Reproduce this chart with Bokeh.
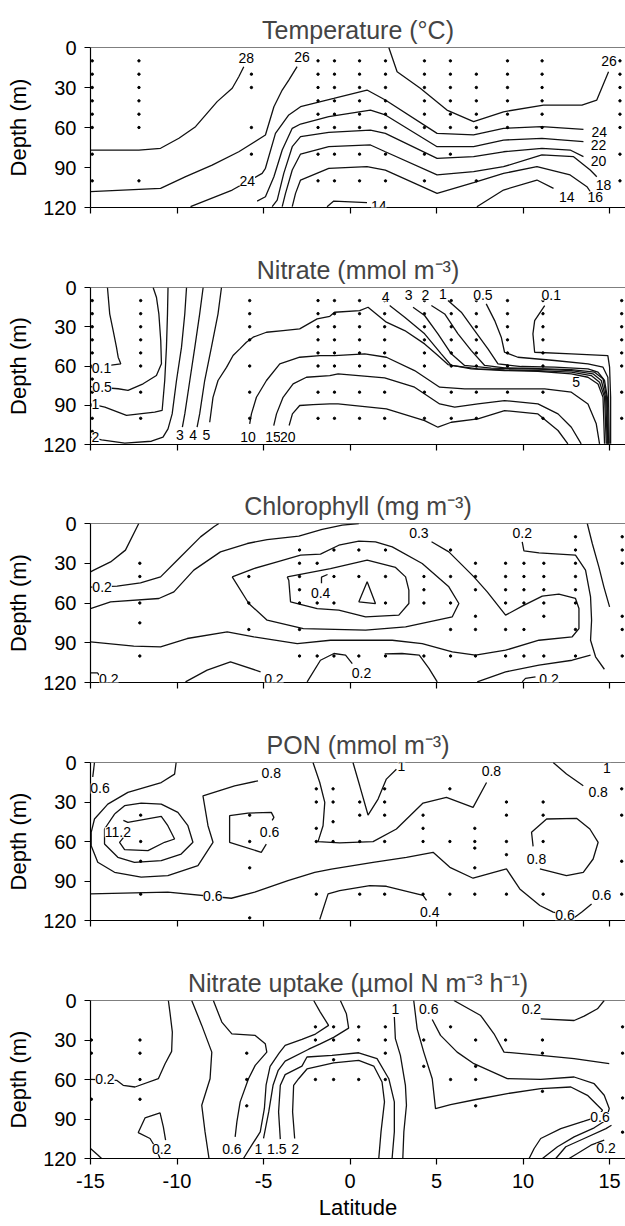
from bokeh.plotting import figure
from bokeh.models import ColumnDataSource, LabelSet, Span, FixedTicker, Range1d
from bokeh.core.properties import value
from bokeh.layouts import column
from bokeh.embed import file_html
from bokeh.resources import INLINE

FONT = "Liberation Sans"
DEPTH_TICKS = [0, 30, 60, 90, 120]
LAT_TICKS = [-15, -10, -5, 0, 5, 10, 15]
LAT_TICK_LABELS = ["-15", "-10", "-5", "0", "5", "10", "15"]

# ---------------- Panel 1: Temperature ----------------
T28 = ([-15, -12.2, -10.95, -9.89, -8.93, -7.68, -6.81, -6.43, -6.14], [76.9, 76.9, 75.6, 68.1, 59.4, 40.6, 30.6, 21.9, 14.4])
T26A = ([-15, -10.95, -9.5, -7.97, -6.43, -4.89, -4.4, -3.92, -3.54, -3.06], [108.1, 105.6, 96.9, 88.2, 78.2, 65.6, 44.4, 31.9, 24.4, 14.4])
T26B = ([2.24, 2.72, 4.06, 5.6, 7.14, 8.87, 11.18, 13.4, 14.26, 14.94], [0, 18.2, 30.6, 46.9, 55.6, 48.2, 43.2, 43.2, 39.4, 18.2])
T24 = ([-9.22, -6.81, -5.08, -4.89, -4.31, -3.54, -2.86, -0.94, 0.98, 2.04, 5.03, 7.14, 8.87, 11.09, 13.49], [119.4, 106.9, 94.4, 90.6, 64.4, 50.6, 44.4, 38.2, 31.9, 39.4, 64.4, 65.6, 60.6, 59.4, 61.4])
T22 = ([-5.37, -4.89, -4.4, -3.92, -3.34, -2.86, -1.23, 1.18, 2.04, 5.03, 7.14, 8.87, 11.09, 13.49], [115.2, 111.9, 96.9, 76.9, 60.6, 57.4, 51.9, 46.9, 50.6, 74.4, 74.4, 69.4, 68.1, 70.6])
T20 = ([-4.5, -4.21, -3.83, -3.34, -2.86, -1.23, 1.18, 2.04, 5.03, 7.14, 8.87, 11.09, 12.72, 13.49], [119.4, 114.4, 94.4, 74.4, 66.9, 63.6, 61.9, 64.4, 83.1, 81.9, 78.2, 75.6, 76.9, 81.9])
T18 = ([-3.92, -3.73, -3.34, -2.86, -1.23, 1.18, 2.04, 5.03, 7.14, 8.87, 11.09, 12.92, 13.88, 14.26], [119.4, 109.4, 91.9, 79.9, 74.4, 73.1, 78.2, 95.6, 93.1, 89.4, 80.6, 81.9, 91.9, 96.9])
T16 = ([-3.34, -3.15, -2.86, -1.23, 0.98, 2.04, 5.03, 7.14, 8.87, 10.8, 12.72, 13.69, 13.88], [119.4, 109.4, 99.4, 90.6, 89.4, 91.9, 109.4, 101.4, 94.4, 89.4, 95.6, 104.4, 108])
T14R = ([7.33, 8.87, 10.8, 11.76], [119.4, 106.9, 99.4, 105.6])
T14L = ([-1.33, -0.94, 0.98], [119.4, 115.2, 116.4])
temp_lines = [T28, T26A, T26B, T24, T22, T20, T18, T16, T14R, T14L]
temp_lab_lat = [-6.0, -2.77, 14.97, -5.94, 14.4, 14.36, 14.36, 14.65, 14.17, 12.53, 1.66]
temp_lab_dep = [8.0, 7.4, 10.0, 100.2, 63.1, 73.1, 84.9, 103.1, 111.9, 112.4, 118.9]
temp_lab_txt = ["28", "26", "26", "24", "24", "22", "20", "18", "16", "14", "14"]
temp_stn_lat = [-14.9, -12.2, -5.7, -1.85, -0.9, 0.55, 2.05, 4.3, 5.8, 7.3, 9.1, 11.1, 15.6]
temp_stn_dep = [[10, 20, 30, 40, 50, 60, 80, 100], [10, 20, 30, 40, 50, 60, 100], [20, 30, 60, 80],
                [10, 20, 30, 40, 50, 60, 80, 100], [10, 20, 30, 40, 50, 60, 80, 100], [10, 20, 30, 40, 50, 60, 80, 100],
                [10, 20, 30, 40, 50, 60, 80, 100], [10, 20, 30, 40, 50, 60, 80, 100], [10, 20, 30, 40, 50, 60, 80],
                [20, 30, 40, 50, 60, 100], [10, 20, 30, 40, 50, 60], [10, 20, 30, 40, 50, 60], [10, 20, 30, 40, 50, 60, 80, 100]]

# ---------------- Panel 2: Nitrate ----------------
N01A = ([-14.02, -13.89, -13.69, -13.5, -13.4, -13.25, -15], [0, 20.1, 32.9, 45.6, 53.3, 58.3, 61.4])
N05A = ([-11.38, -11.19, -11.05, -10.94, -10.9, -11.19, -11.96, -12.83, -13.4, -15], [0, 7.4, 20.1, 40.5, 58.3, 67.3, 73.6, 78.7, 77.4, 75.7])
N1A = ([-10.52, -10.55, -10.61, -10.71, -10.86, -11.29, -12.92, -14.17, -15], [0, 20.1, 45.6, 71.1, 94, 95.3, 97.8, 91.5, 89])
N2A = ([-9.45, -9.55, -9.74, -10.03, -10.28, -10.52, -10.81, -11.48, -13.02, -14.36, -15], [0, 20.1, 45.6, 71.1, 96.6, 108, 114.4, 117.5, 119, 116.4, 114.4])
N3A = ([-8.49, -8.69, -8.97, -9.26, -9.55, -9.69], [0, 20.1, 45.6, 71.1, 96.6, 106.8])
N4A = ([-7.43, -7.63, -8.01, -8.4, -8.69, -8.84], [0, 20.1, 45.6, 71.1, 96.6, 106.8])
N5 = ([-8.11, -7.92, -7.63, -7.14, -6.76, -6.37, -5.99, -5.6, -4.83, -3.87, -2.91, -1.9, -1.17, -0.89, 0.56, 1.04, 2.1, 3.16, 4.31, 5.08, 5.66, 7.01, 8.93, 10.86, 12.79, 13.75, 14.33, 14.62, 14.71],
      [103, 84, 71.1, 61, 52, 46.9, 41.8, 38, 34.2, 32.9, 31.6, 24, 22, 18.9, 17.6, 15.1, 26.5, 32.9, 43.1, 52, 58.9, 62.2, 63.5, 64, 66, 68.6, 73.7, 83.9, 119.5])
N10 = ([-5.8, -5.7, -5.41, -4.83, -4.06, -2.91, -1.75, -0.89, 0.85, 2.1, 3.73, 5.18, 6.62, 8.93, 11.25, 12.79, 13.75, 14.23, 14.42],
       [104.2, 96.6, 83.9, 71.1, 58.4, 53.3, 52, 52, 50.7, 53.3, 63.5, 76.2, 77.5, 77.5, 77.5, 80, 89, 104.2, 119.5])
N15 = ([-4.41, -4.25, -3.87, -3.29, -2.52, -1.17, -0.69, 2.0, 3.73, 5.18, 6.05, 7.39, 8.93, 10.86, 12.02, 12.79, 13.36],
       [105.5, 96.6, 83.9, 73.7, 68.6, 67.3, 66, 69, 76.2, 89, 91.5, 89, 86.4, 89, 96.6, 106.8, 119.5])
N20 = ([-3.52, -3.33, -2.91, -2.14, -1.17, -0.69, 2.1, 4.31, 5.08, 5.85, 7.39, 8.93, 10.86, 12.02, 12.59],
       [105.5, 96.6, 90.2, 89.5, 89, 89, 92.8, 101.7, 106.8, 103, 100.4, 94.1, 96.6, 109.3, 119.5])
N4B = ([2.29, 3.16, 4.31, 5.27, 5.85, 7.39, 8.93, 10.86, 12.79, 13.94, 14.42, 14.71, 14.81], [13.8, 22.7, 35.4, 50.7, 59.6, 62.2, 63, 63.5, 64.7, 67.3, 72.4, 83.9, 119.5])
N3B = ([3.64, 4.31, 5.08, 5.85, 6.62, 8.16, 10.86, 12.79, 14.04, 14.52, 14.77, 14.87], [15.1, 21.4, 35.4, 50.7, 59.6, 61.7, 62.4, 63.5, 66, 71.1, 83.9, 119.5])
N2B = ([4.7, 5.47, 6.24, 7.01, 7.78, 8.93, 10.86, 12.79, 14.13, 14.62, 14.83, 14.9], [13.8, 20.2, 35.4, 48.2, 59.6, 61.4, 62, 62.7, 64.7, 69.8, 83.9, 119.5])
N1B = ([5.66, 6.43, 7.2, 7.97, 8.55, 9.9, 11.82, 13.75, 14.33, 14.71, 14.87, 14.94], [10, 18.9, 32.9, 46.9, 58.4, 60.4, 60.9, 62.2, 64.7, 71.1, 83.9, 119.5])
N05B = ([7.87, 8.36, 8.74, 8.93, 9.7, 11.82, 13.75, 14.62, 14.9, 14.94, 14.98], [12.5, 25.3, 38, 49.5, 53.3, 55.8, 58.4, 60.9, 68.6, 83.9, 119.5])
N01B = ([11.25, 10.67, 10.57, 10.67, 12.79, 14.9, 15.0, 15.06, 15.06], [13.8, 25.3, 35.4, 49.5, 50.7, 52, 60.9, 83.9, 119.5])
nit_lines = [N01A, N05A, N1A, N2A, N3A, N4A, N5, N10, N15, N20, N4B, N3B, N2B, N1B, N05B, N01B]
nit_lab_lat = [-14.36, -14.33, -14.71, -14.71, -9.84, -9.07, -8.3, -5.89, -4.45, -3.6, 2.06, 3.39, 4.35, 5.37, 7.68, 11.63, 13.07]
nit_lab_dep = [61.4, 75.7, 89.4, 114.4, 113.1, 113.1, 113.1, 114.4, 114.4, 114.4, 6.9, 6.1, 6.1, 4.9, 6.1, 6.1, 72.4]
nit_lab_txt = ["0.1", "0.5", "1", "2", "3", "4", "5", "10", "15", "20", "4", "3", "2", "1", "0.5", "0.1", "5"]
nit_stn_lat = [-14.9, -12.1, -5.8, -1.85, -0.9, 0.55, 2.0, 4.3, 5.85, 7.3, 9.1, 11.15, 15.7]
nit_stn_dep = [[10, 20, 30, 40, 50, 60, 70, 80, 90, 100, 110], [10, 20, 30, 40, 50, 60, 80, 100], [10, 20, 30, 40, 60, 80, 100],
               [10, 20, 30, 40, 50, 60, 80, 100], [10, 20, 30, 40, 50, 60, 80, 100], [10, 20, 30, 40, 50, 60, 80, 100],
               [10, 20, 30, 40, 50, 60, 80, 100], [10, 20, 30, 40, 50, 60, 80, 100], [10, 20, 30, 40, 50, 60, 80, 100],
               [10, 20, 30, 40, 50, 60, 80, 100], [10, 20, 30, 40, 50, 60, 80], [10, 20, 30, 40, 50, 60, 80, 100],
               [10, 20, 30, 40, 50, 60, 80, 100]]

# ---------------- Panel 3: Chlorophyll ----------------
C1 = ([-12.21, -12.98, -13.84, -14.81, -15], [0, 20.1, 29, 35.2, 36.5])
C2 = ([-15, -13.46, -12.11, -10.95, -9.99, -8.64, -7.87, -7.58], [48, 47.3, 44.8, 40.3, 27.7, 10.1, 2.5, 0])
C3 = ([-15, -13.84, -11.05, -10.18, -9.03, -7.49, -5.94, -4.79, -2.96, -1.61, -0.45, 0.51], [64.2, 59.1, 56.6, 51.6, 35.2, 21.4, 15.1, 12.1, 9.6, 4.5, 1.3, 0])
CMID = ([-6.81, -5.56, -4.21, -2.86, -1.71, -0.65, 0.51, 1.47, 2.44, 4.17, 5.71, 6.29, 5.91, 3.21, 0.9, -2.7, -4.79, -5.85, -6.81],
        [40.3, 34, 28.9, 23.9, 23.1, 16.4, 13.3, 13.8, 17.6, 30.2, 47.8, 60.4, 70.4, 78, 80.5, 79.3, 73, 60.4, 40.3])
C04 = ([-3.63, -1.13, 0.99, 2.63, 3.21, 3.4, 3.4, 2.82, 0.9, -0.65, -1.9, -3.44, -3.54, -3.63], [40.3, 34, 27.7, 33.2, 40.3, 50.3, 60.4, 69.2, 70.4, 65.4, 64.2, 59.1, 42.8, 40.3])
CTRI = ([0.99, 0.51, 1.47, 0.99], [44, 59.1, 60.4, 44])
CGAM = ([-1.65, -1.65, -1.3], [45, 40.5, 38.5])
C03 = ([4.71, 5.71, 6.48, 7.16, 7.93, 8.99, 9.95, 11.11, 12.07, 13.03, 13.23, 13.23, 12.84, 10.92, 8.99, 7.25, 5.91, 4.17, 2.44, -1.13, -3.05, -5.56, -7.1, -9.41, -10.95, -12.5, -15],
       [13.8, 21.4, 31.4, 40.3, 51.6, 69.2, 62.4, 54.8, 53.3, 56.6, 64.2, 79.3, 85.5, 88.1, 95.6, 99.4, 96.9, 90.6, 88.1, 88.1, 90.6, 85.5, 81.8, 86.8, 93.1, 92.6, 89.3])
CR1 = ([9.95, 10.05, 10.92, 13.03, 13.61, 13.9, 13.96, 13.9, 14.19, 14.7], [13.8, 20.6, 22.1, 23.9, 35.2, 55.4, 73, 88.1, 100.6, 110])
CR2 = ([13.71, 14.0, 14.38, 14.67, 15.0], [0, 15.1, 32.7, 47.8, 62.9])
CBL = ([-15, -14.6, -14.5], [112.7, 112.7, 114.5])
CB1 = ([-9.51, -8.26, -6.91, -5.17], [119.5, 110.7, 104.4, 111.9])
CB2A = ([-2.48, -1.71, -0.93, -0.26, 0.13], [119.5, 103.2, 98.1, 99.4, 105.7])
CB2B = ([2.0, 3.0, 4.0, 4.56, 5.04], [98.4, 98.1, 99.4, 109.4, 119.5])
CRB = ([7.35, 8.99, 10.92, 12.84, 13.9], [119.5, 112, 106.9, 103.2, 99.4])
CBR = ([9.95, 10.14, 10.72], [119.5, 116.9, 115.7])
chl_lines = [C1, C2, C3, CMID, C04, CTRI, CGAM, C03, CR1, CR2, CBL, CB1, CB2A, CB2B, CRB, CBR]
chl_lab_lat = [-14.33, -13.94, -4.4, -1.7, 3.98, 9.95, 0.66, 11.5]
chl_lab_dep = [48.3, 117.0, 117.0, 52.8, 6.8, 7.0, 112.7, 117.7]
chl_lab_txt = ["0.2", "0.2", "0.2", "0.4", "0.3", "0.2", "0.2", "0.2"]
chl_stn_lat = [-12.15, -5.85, -2.92, -1.9, -0.93, 0.51, 2.05, 4.27, 5.81, 7.25, 8.99, 10.05, 11.2, 13.03, 15.73]
chl_stn_dep = [[30, 40, 60, 75, 100], [40, 60, 80], [20, 30, 40, 50, 60, 80, 100], [30, 60, 100], [20, 40, 60, 100],
               [20, 40, 100], [20, 40, 60, 100], [40, 50, 60, 100], [20, 40, 60, 80, 100], [30, 40, 50, 70, 80, 100],
               [30, 40, 50, 60, 80, 100], [30, 40, 50, 60, 80, 100], [30, 40, 50, 60, 70, 100],
               [10, 20, 30, 40, 50, 60, 80, 100], [10, 20, 30, 70, 80, 100]]

# ---------------- Panel 4: PON ----------------
P06 = ([-14.77, -14.87], [0, 11])
PA = ([-5.32, -6.67, -8.5, -8.21, -7.92, -8.79, -10.53, -12.07, -13.61, -14.58, -14.96, -14.96, -14.77, -14.0, -12.84, -10.91, -10.14, -10.05],
      [13.9, 17.7, 25.3, 48, 60.6, 78.3, 85.9, 87.1, 83.4, 75.8, 63.2, 53, 42.9, 31.6, 22.7, 15.2, 8.8, 0])
PB = ([-13.61, -13.03, -12.07, -10.91, -9.95, -9.37, -9.08, -9.76, -10.91, -12.46, -13.42, -14.19, -14.19, -13.61],
      [39.2, 32.8, 30.8, 31.6, 37.9, 48, 60.6, 69.5, 74.5, 75.8, 72, 61.9, 50.5, 39.2])
PC = ([-13.1, -12.84, -10.91, -10.53, -10.14, -10.72, -11.68, -13.03, -13.32, -13.1], [44, 45.5, 40.9, 48, 58.1, 60.6, 66.9, 66.2, 60.6, 57])
PD = ([-4.5, -4.4, -4.55, -5.9, -6.96, -6.96, -5.13, -4.84], [44, 41.7, 37.9, 38.4, 40.4, 60.6, 68.2, 62])
PE = ([-15, -12.46, -10.53, -6.86, -5.51, -3.59, -2.04, -1.08, 1.33, 3.26, 4.8, 5.77, 7.11, 9.04, 9.81, 10.97, 11.74, 12.99, 13.38, 13.96],
      [99.8, 99, 98.5, 103.1, 98.5, 89.7, 83.4, 81, 75.8, 72, 68.2, 79.6, 87.9, 80.8, 96, 108.6, 113.7, 117.5, 113.7, 107.4])
PF = ([-1.75, -1.27, -0.6, 1.14, 2.1, 4.22, 4.42], [119.2, 99.8, 97.3, 93.5, 94, 101, 104.8])
PG = ([-2.14, -1.75, -1.46, -1.56, -1.85, -0.6, 1.33, 2.68, 4.22, 5.57, 7.11, 7.89], [0, 15.2, 30.3, 48, 60.1, 61.1, 60.1, 50.5, 30.8, 26.5, 34.1, 15.2])
PH = ([0.17, 0.56, 1.04, 1.62, 2.1, 2.68], [0, 17.7, 39.9, 27.8, 12.6, 5.1])
PI = ([11.74, 12.51, 13.48], [0, 8.8, 17.7])
PJ = ([10.58, 10.49, 11.36, 13.09, 13.86, 14.34, 14.05, 13.48, 12.51, 10.97], [63.7, 53, 42.9, 42.4, 50.5, 60.6, 73.3, 83.4, 85.9, 80.8])
pon_lines = [P06, PA, PB, PC, PD, PE, PF, PG, PH, PI, PJ]
pon_lab_lat = [-14.45, -4.55, -13.42, -4.65, -7.93, 2.97, 8.17, 14.34, 14.85, 10.78, 4.61, 12.42, 14.54]
pon_lab_dep = [19.7, 7.6, 53.0, 53.0, 101.5, 2.5, 6.3, 22.7, 4.0, 73.3, 113.7, 116.2, 101.0]
pon_lab_txt = ["0.6", "0.8", "11.2", "0.6", "0.6", "1", "0.8", "0.8", "1", "0.8", "0.4", "0.6", "0.6"]
pon_stn_lat = [-12.1, -5.8, -1.95, -0.98, 0.56, 2.0, 4.22, 5.77, 7.21, 9.04, 11.16, 15.7]
pon_stn_dep = [[40, 60, 75, 100], [40, 60, 80, 118], [20, 30, 50, 60, 100], [20, 30, 45, 60], [30, 40, 60, 100],
               [20, 30, 40, 60, 100], [40, 50, 60, 100], [20, 60, 100], [50, 60, 65, 80, 100], [30, 40, 60, 70, 100],
               [30, 40, 60, 100], [20, 40, 75, 100]]

# ---------------- Panel 5: Nitrate uptake ----------------
U1 = ([-15, -13.49, -13.11, -12.43, -11.08, -10.69, -10.31, -10.27, -10.41, -10.5], [59.9, 60.6, 64.4, 65.7, 59.4, 48, 38.6, 24, 8.8, 0])
U2 = ([-10.98, -11.27, -11.56, -12.24, -11.85, -10.98, -10.79, -10.66], [120, 111.1, 104.8, 100.3, 89.2, 85.4, 96, 106.1])
U3 = ([-15, -14.56, -14.36], [112.4, 117.5, 120])
U4 = ([-9.15, -8.57, -7.99, -8.09, -8.57, -8.38, -8.15], [0, 18.9, 39.2, 59.4, 79.6, 99.8, 120])
U5 = ([-7.9, -7.41, -6.83, -5.48, -4.9, -4.81, -5.48, -5.87, -6.35, -6.54, -6.64], [0, 16.4, 25.3, 26.5, 32.8, 39.2, 49.3, 59.4, 77, 92.2, 103.6])
UA = ([-6.16, -5.68, -5.19, -4.95, -4.85, -4.62, -4.1, -3.75, -2.78, -2.0, -1.24, -1.72, -2.1], [120, 109.9, 99.8, 82, 64, 50, 40, 34.1, 29.5, 25.5, 18.9, 8.8, 0])
UB = ([-5.0, -4.7, -4.45, -4.15, -3.75, -2.39, -1.72, -0.95, -0.08, -0.21, -0.56], [104.8, 84.6, 64.4, 53, 46, 37, 33, 28, 21, 10.1, 0])
U15 = ([-4.03, -4.13, -4.03, -3.75, -2.78, -2.49, -1.04, 0.5, 1.56, 2.24, 2.56, 2.56, 2.43], [105.3, 84.6, 64.4, 56.3, 49.8, 42.9, 41.7, 39.7, 44.2, 59.4, 77, 99.8, 120])
U20 = ([-3.2, -3.32, -3.26, -2.97, -2.49, -0.95, 0.5, 1.37, 1.85, 1.99, 1.79, 1.66], [104.8, 84.6, 64.4, 59.4, 52, 47.4, 45.5, 49.8, 61.9, 77, 99.8, 120])
UT1 = ([2.56, 2.62, 2.91, 3.2, 3.26, 3.11, 3.05], [12.6, 29, 41.7, 64.4, 79.6, 99.8, 120])
UW1 = ([3.68, 3.88, 4.26, 4.75, 4.94, 5.81, 7.35, 9.09, 11.02, 12.76, 13.72, 14.3, 14.59, 14.3, 13.53, 12.18, 11.02, 10.64, 10.35],
       [0, 21.5, 39.2, 59.4, 82.1, 79.1, 75, 70.7, 66.9, 65.7, 72, 79.6, 83.4, 88.4, 91.7, 97.3, 104.8, 112.4, 120])
UW2 = ([4.75, 5.23, 6.19, 7.16, 9.09, 11.02, 12.95, 14.11, 14.69, 14.98, 14.79, 14.11, 12.95, 11.99, 11.12],
       [14.4, 26.5, 39.2, 48, 59.4, 59.9, 58.1, 63.2, 72, 82.1, 90.9, 96.7, 103.6, 111.1, 120])
UW3 = ([6.0, 7.55, 8.32, 8.9, 11.02, 12.95, 14.98], [0, 11.4, 25.3, 39.2, 41.7, 44.2, 48])
UF3 = ([11.89, 12.47, 13.53, 14.79, 15.11], [120, 111.1, 104.8, 97.3, 94.7])
UF4 = ([12.66, 13.14, 13.92, 14.69], [120, 116.2, 109.9, 106.1])
UW4 = ([11.02, 12.95, 13.53, 14.3, 14.69], [13.9, 15.2, 11.9, 6.3, 0])
upt_lines = [U1, U2, U3, U4, U5, UA, UB, U15, U20, UT1, UW1, UW2, UW3, UF3, UF4, UW4]
upt_lab_lat = [-14.17, -10.89, -6.83, -5.29, -4.23, -3.17, 2.62, 4.55, 10.48, 14.45, 14.79]
upt_lab_dep = [59.9, 112.9, 112.9, 112.9, 112.9, 112.9, 6.8, 6.8, 6.8, 88.4, 112.4]
upt_lab_txt = ["0.2", "0.2", "0.6", "1", "1.5", "2", "1", "0.6", "0.2", "0.6", "0.2"]
upt_stn_lat = [-14.95, -12.14, -5.97, -2.0, -0.95, 0.5, 2.04, 4.26, 5.81, 7.26, 8.99, 11.12, 15.75]
upt_stn_dep = [[30, 40, 75], [30, 40, 60, 75], [40, 60, 80], [20, 30, 60], [20, 30, 45, 60], [20, 30, 60],
               [20, 30, 40, 60], [30, 50], [20, 60], [30, 50, 60, 80], [30], [30, 40, 69], [20, 40, 74, 100]]


def panel(title, top, fh, bottom, lines, lab, stn, show_x):
    p = figure(frame_width=535, frame_height=fh, min_border_left=90, min_border_right=0,
               min_border_top=top, min_border_bottom=bottom,
               x_range=Range1d(-15, 15.92), y_range=Range1d(120, 0),
               output_backend="svg", toolbar_location=None, tools="")
    p.title.text = title
    p.title.align = "center"
    p.title.text_font = FONT
    p.title.text_font_size = "25px"
    p.title.text_font_style = "normal"
    p.title.standoff = 7
    p.outline_line_color = None
    p.grid.visible = False
    p.background_fill_color = "white"
    p.border_fill_color = "white"

    p.yaxis.ticker = FixedTicker(ticks=DEPTH_TICKS)
    p.yaxis.axis_label = "Depth (m)"
    p.yaxis.major_label_standoff = 8
    p.yaxis.axis_label_standoff = 9
    p.xaxis.ticker = FixedTicker(ticks=LAT_TICKS)
    for ax in (p.xaxis, p.yaxis):
        ax.axis_line_color = "black"
        ax.axis_line_width = 1.2
        ax.major_tick_line_color = "black"
        ax.major_tick_line_width = 1.2
        ax.major_tick_out = 6
        ax.major_tick_in = 0
        ax.minor_tick_line_color = None
        ax.major_label_text_font = FONT
        ax.major_label_text_font_size = "20px"
        ax.major_label_text_color = "black"
        ax.axis_label_text_font = FONT
        ax.axis_label_text_font_size = "22px"
        ax.axis_label_text_font_style = "normal"
        ax.axis_label_text_color = "black"
    if show_x:
        p.xaxis.axis_label = "Latitude"
        p.xaxis.major_label_standoff = 9
        p.xaxis.axis_label_standoff = 4
        p.xaxis.major_label_overrides = dict(zip(LAT_TICKS, LAT_TICK_LABELS))
    else:
        p.xaxis.major_label_overrides = {t: "" for t in LAT_TICKS}

    p.multi_line(xs=[l[0] for l in lines], ys=[l[1] for l in lines],
                 line_color="#111111", line_width=1.3)

    dx, dy = [], []
    for la, ds in zip(stn[0], stn[1]):
        for d in ds:
            dx.append(la)
            dy.append(d)
    p.scatter(dx, dy, size=2.4, color="black")

    p.add_layout(Span(location=0, dimension="width", line_color="black", line_width=1.2))

    src = ColumnDataSource(dict(x=lab[0], y=lab[1], t=lab[2]))
    p.add_layout(LabelSet(x="x", y="y", text="t", source=src, text_align="center",
                          text_baseline="middle", text_font=value(FONT), text_font_size=value("14px"),
                          text_color="black", background_fill_color="white"))
    return p


p1 = panel("Temperature (°C)", 47, 160, 33, temp_lines,
           (temp_lab_lat, temp_lab_dep, temp_lab_txt), (temp_stn_lat, temp_stn_dep), False)
p2 = panel("Nitrate (mmol m⁻³)", 47, 157, 34, nit_lines,
           (nit_lab_lat, nit_lab_dep, nit_lab_txt), (nit_stn_lat, nit_stn_dep), False)
p3 = panel("Chlorophyll (mg m⁻³)", 45, 159, 34, chl_lines,
           (chl_lab_lat, chl_lab_dep, chl_lab_txt), (chl_stn_lat, chl_stn_dep), False)
p4 = panel("PON (mmol m⁻³)", 46, 158, 33, pon_lines,
           (pon_lab_lat, pon_lab_dep, pon_lab_txt), (pon_stn_lat, pon_stn_dep), False)
p5 = panel("Nitrate uptake (µmol N m⁻³ h⁻¹)", 47, 158, 67, upt_lines,
           (upt_lab_lat, upt_lab_dep, upt_lab_txt), (upt_stn_lat, upt_stn_dep), True)

layout = column(p1, p2, p3, p4, p5, spacing=0)
open("out.html", "w").write(file_html(layout, INLINE))
